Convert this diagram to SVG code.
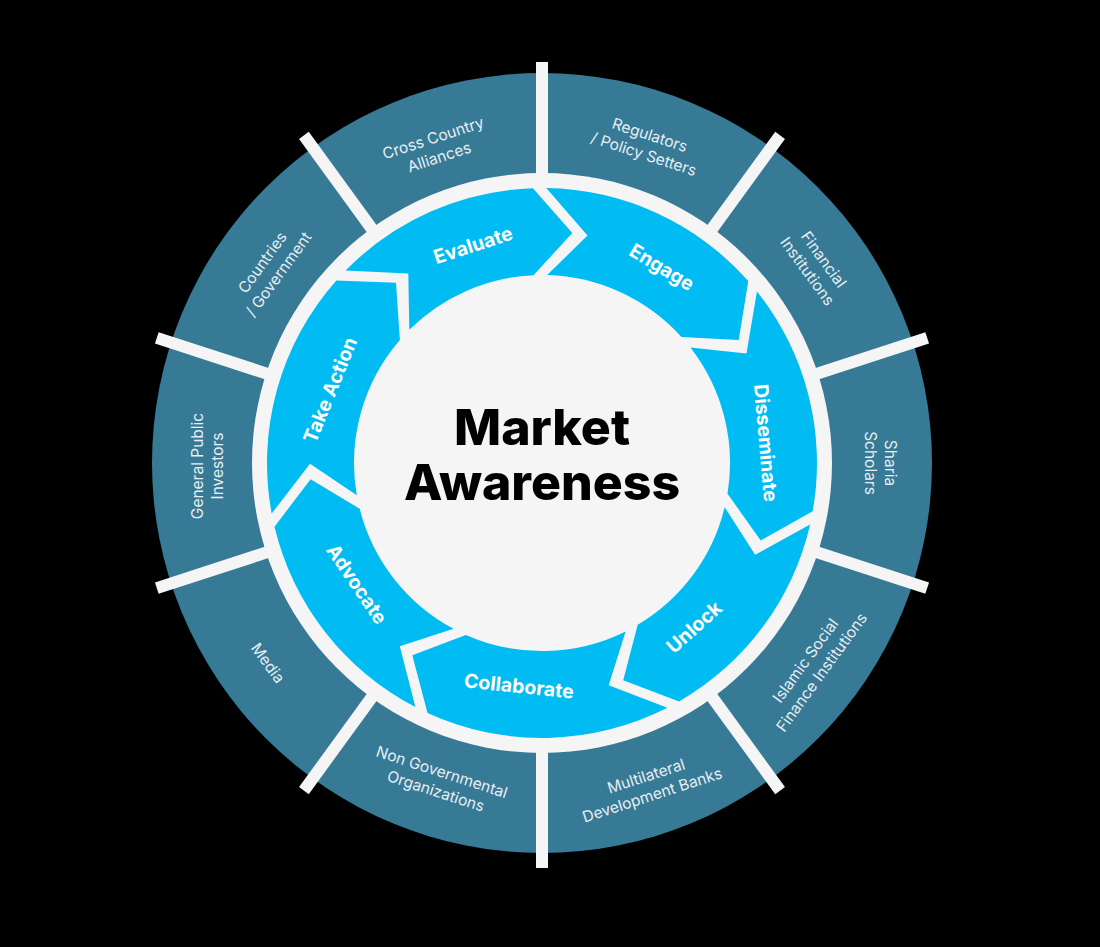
<svg xmlns="http://www.w3.org/2000/svg" width="1100" height="947" viewBox="0 0 1100 947">
<style>
.ring{fill:#367a96}
.disc{fill:#f5f5f5}
.arrow{fill:#00bcf2}
.div{stroke:#f5f5f5;stroke-width:12;stroke-linecap:butt}
.ol{font-family:Inter,"Noto Sans","Liberation Sans",sans-serif;font-size:15.5px;fill:#e8eef2;text-anchor:middle;dominant-baseline:central}
.al{font-family:Inter,"Noto Sans","Liberation Sans",sans-serif;font-size:19.5px;font-weight:700;fill:#ffffff;text-anchor:middle;dominant-baseline:central}
.ct{font-family:Inter,"Noto Sans","Liberation Sans",sans-serif;font-size:50px;font-weight:800;fill:#000000;text-anchor:middle}
</style>
<rect width="1100" height="947" fill="#000"/>
<g id="outer-ring">
<circle class="ring" cx="542" cy="463" r="390"/>
<circle class="disc" cx="542" cy="463" r="290"/>
</g>
<g id="dividers">
<line class="div" x1="542" y1="180" x2="542" y2="62"/>
<line class="div" x1="708.3" y1="234.1" x2="780.1" y2="135.4"/>
<line class="div" x1="811.2" y1="375.6" x2="927.2" y2="337.9"/>
<line class="div" x1="811.2" y1="550.4" x2="927.2" y2="588.1"/>
<line class="div" x1="708.3" y1="691.9" x2="780.1" y2="790.6"/>
<line class="div" x1="542" y1="746" x2="542" y2="868"/>
<line class="div" x1="375.7" y1="691.9" x2="303.9" y2="790.6"/>
<line class="div" x1="272.8" y1="550.4" x2="156.8" y2="588.1"/>
<line class="div" x1="272.8" y1="375.6" x2="156.8" y2="337.9"/>
<line class="div" x1="375.7" y1="234.1" x2="303.9" y2="135.4"/>
</g>
<g id="seg-cross-country"><text class="ol" transform="translate(436,147) rotate(-18)"><tspan x="0" y="-10">Cross Country</tspan><tspan x="0" y="10">Alliances</tspan></text></g>
<g id="seg-regulators"><text class="ol" transform="translate(647,144) rotate(18)"><tspan x="0" y="-10">Regulators</tspan><tspan x="0" y="10">/ Policy Setters</tspan></text></g>
<g id="seg-financial"><text class="ol" transform="translate(816,265) rotate(54)"><tspan x="0" y="-10">Financial</tspan><tspan x="0" y="10">Institutions</tspan></text></g>
<g id="seg-sharia"><text class="ol" transform="translate(881,463) rotate(90)"><tspan x="0" y="-10">Sharia</tspan><tspan x="0" y="10">Scholars</tspan></text></g>
<g id="seg-islamic"><text class="ol" transform="translate(813,666) rotate(-54)"><tspan x="0" y="-10">Islamic Social</tspan><tspan x="0" y="10">Finance Institutions</tspan></text></g>
<g id="seg-multilateral"><text class="ol" transform="translate(649,785) rotate(-18)"><tspan x="0" y="-10">Multilateral</tspan><tspan x="0" y="10">Development Banks</tspan></text></g>
<g id="seg-ngo"><text class="ol" transform="translate(439,781) rotate(18)"><tspan x="0" y="-10">Non Governmental</tspan><tspan x="0" y="10">Organizations</tspan></text></g>
<g id="seg-media"><text class="ol" transform="translate(268,663) rotate(54)" x="0" y="0">Media</text></g>
<g id="seg-general-public"><text class="ol" transform="translate(207,466) rotate(-90)"><tspan x="0" y="-10">General Public</tspan><tspan x="0" y="10">Investors</tspan></text></g>
<g id="seg-countries"><text class="ol" transform="translate(270,268) rotate(-54)"><tspan x="0" y="-10">Countries</tspan><tspan x="0" y="10">/ Government</tspan></text></g>
<g id="arrow-evaluate">
<path class="arrow" d="M345.5,270.6 A275,275 0 0 1 532.9,188.2 L572.3,233.0 L533.5,275.2 A188,188 0 0 0 409.3,329.8 L408.3,273.4 Z"/>
<text class="al" transform="translate(473,245) rotate(-18)">Evaluate</text>
</g>
<g id="arrow-engage">
<path class="arrow" d="M546.3,188.0 A275,275 0 0 1 748.3,281.1 L738.7,340.1 L681.5,337.0 A188,188 0 0 0 547.2,275.1 L587.5,235.5 Z"/>
<text class="al" transform="translate(662,267) rotate(31)">Engage</text>
</g>
<g id="arrow-disseminate">
<path class="arrow" d="M756.9,291.4 A275,275 0 0 1 812.7,511.2 L760.7,540.4 L727.5,493.7 A188,188 0 0 0 690.4,347.5 L746.5,353.4 Z"/>
<text class="al" transform="translate(766,443) rotate(85)">Disseminate</text>
</g>
<g id="arrow-unlock">
<path class="arrow" d="M810.1,524.4 A275,275 0 0 1 679.1,701.4 L623.2,680.3 L637.7,624.8 A188,188 0 0 0 724.7,507.2 L755.1,554.8 Z"/>
<text class="al" transform="translate(694,627) rotate(-42)">Unlock</text>
</g>
<g id="arrow-collaborate">
<path class="arrow" d="M667.3,707.8 A275,275 0 0 1 427.5,713.0 L412.3,655.3 L465.8,634.9 A188,188 0 0 0 625.6,631.4 L608.7,685.2 Z"/>
<text class="al" transform="translate(519,686) rotate(6)">Collaborate</text>
</g>
<g id="arrow-advocate">
<path class="arrow" d="M415.4,707.1 A275,275 0 0 1 274.5,526.7 L310.6,479.2 L359.7,508.8 A188,188 0 0 0 453.5,628.8 L399.8,646.3 Z"/>
<text class="al" transform="translate(357,584) rotate(56)">Advocate</text>
</g>
<g id="arrow-take-action">
<path class="arrow" d="M271.7,513.6 A275,275 0 0 1 336.4,280.4 L396.0,282.7 L399.9,339.9 A188,188 0 0 0 356.8,495.3 L310.0,463.8 Z"/>
<text class="al" transform="translate(330,390) rotate(-68)">Take Action</text>
</g>
<g id="center">
<text class="ct" x="542" y="445">Market</text>
<text class="ct" x="542" y="500">Awareness</text>
</g>
</svg>
